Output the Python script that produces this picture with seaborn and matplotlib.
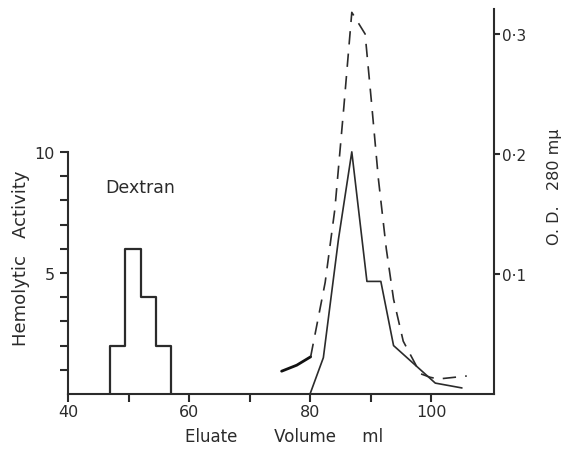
import numpy as np
import pandas as pd
import matplotlib
matplotlib.use("Agg")
import matplotlib.pyplot as plt
import seaborn as sns

# ---- data ----
# Dextran fractions (step histogram, hemolytic activity)
dex_edges = [47, 49.5, 52, 54.5, 57]
dex_activity = [2, 6, 4, 2]

# Hemolytic activity of the main peak (solid line)
hem_volume = [80.0, 82.2, 84.7, 86.9, 89.4, 91.7, 93.8, 100.7, 105.1]
hem_activity = [0.0, 1.5, 6.4, 10.0, 4.65, 4.65, 2.0, 0.45, 0.25]

# O.D. 280 mu (first piece drawn solid, rest dashed)
od_pre_volume = [75.3, 77.8, 80.1]
od_pre_value = [0.019, 0.024, 0.031]
od_volume = [80.1, 82.5, 84.1, 85.6, 86.9, 89.1, 90.1, 91.3, 92.6, 93.8, 95.4,
             97.4, 98.2, 99.8, 101.2, 105.9]
od_value = [0.031, 0.093, 0.154, 0.240, 0.318, 0.300, 0.246, 0.179, 0.121,
            0.079, 0.044, 0.025, 0.017, 0.014, 0.0125, 0.015]

x_ticks = [40, 60, 80, 100]
x_minor = [50, 70, 90]
left_ticks = [5, 10]
left_minor = [1, 2, 3, 4, 6, 7, 8, 9]
right_ticks = [0.1, 0.2, 0.3]
right_labels = ["0·1", "0·2", "0·3"]

# ---- styling ----
sns.set_style("ticks")
plt.rcParams["font.family"] = ["DejaVu Sans"]
ink = "#2b2b2b"

fig = plt.figure(figsize=(5.66, 4.56), dpi=100)
ax = fig.add_axes([68 / 566, 61 / 456, 426 / 566, 385 / 456])
ax2 = ax.twinx()

# step histogram for Dextran
sx = [dex_edges[0]] + list(dex_edges) + [dex_edges[-1]]
sy = [0] + list(dex_activity) + [dex_activity[-1], 0]
dex_df = pd.DataFrame({"vol": sx, "act": sy})
sns.lineplot(data=dex_df, x="vol", y="act", ax=ax, sort=False, estimator=None,
             drawstyle="steps-post", color=ink, lw=1.6)

hem_df = pd.DataFrame({"vol": hem_volume, "act": hem_activity})
sns.lineplot(data=hem_df, x="vol", y="act", ax=ax, sort=False, estimator=None,
             color=ink, lw=1.2)

od_pre_df = pd.DataFrame({"vol": od_pre_volume, "od": od_pre_value})
sns.lineplot(data=od_pre_df, x="vol", y="od", ax=ax2, sort=False, estimator=None,
             color="#111111", lw=2.0)
od_df = pd.DataFrame({"vol": od_volume, "od": od_value})
sns.lineplot(data=od_df, x="vol", y="od", ax=ax2, sort=False, estimator=None,
             color=ink, lw=1.2, linestyle=(0, (8, 5.5)))

ax.text(46.2, 8.55, "Dextran", fontsize=12.5, color=ink, ha="left", va="center")

# ---- axes ----
ax.set_xlim(40, 110.4)
ax.set_ylim(0, 15.9)
ax2.set_ylim(0, 0.3208)

for a in (ax, ax2):
    a.set_xlabel("")
    a.set_ylabel("")
    a.spines["top"].set_visible(False)
    for s in a.spines.values():
        s.set_linewidth(1.5)
        s.set_color(ink)

ax.spines["right"].set_visible(False)
ax2.spines["left"].set_visible(False)
ax2.spines["bottom"].set_visible(False)
ax.spines["left"].set_bounds(0, 10)
ax2.spines["right"].set_bounds(0, 0.3208)

ax.set_xticks(x_ticks)
ax.set_xticks(x_minor, minor=True)
ax.set_xticklabels([str(v) for v in x_ticks])
ax.set_yticks(left_ticks)
ax.set_yticks(left_minor, minor=True)
ax.set_yticklabels([str(v) for v in left_ticks])
ax2.set_yticks(right_ticks)
ax2.set_yticklabels(right_labels)

ax.tick_params(axis="x", which="both", direction="out", length=6, width=1.5,
               color=ink, labelsize=11.5, labelcolor=ink, pad=1.5)
ax.tick_params(axis="y", which="both", direction="out", length=5.5, width=1.5,
               color=ink, labelsize=11.5, labelcolor=ink, pad=4)
ax2.tick_params(axis="y", which="both", direction="out", length=4.5, width=1.5,
                color=ink, labelsize=11, labelcolor=ink, pad=1.5)

fig.text(284 / 566, 1 - 437 / 456, "Eluate       Volume     ml", fontsize=12,
         color=ink, ha="center", va="center")
fig.text(21 / 566, 1 - 258 / 456, "Hemolytic   Activity", fontsize=13,
         color=ink, ha="center", va="center", rotation=90)
fig.text(554 / 566, 1 - 187 / 456, "O. D.   280 mμ", fontsize=11.5,
         color=ink, ha="center", va="center", rotation=90)

fig.savefig("out.png", dpi=100, facecolor="white")
